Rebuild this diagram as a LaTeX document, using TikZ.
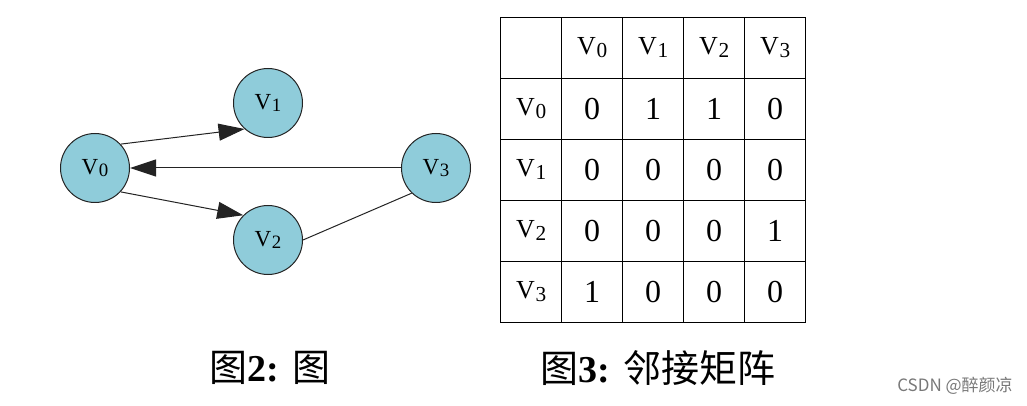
\documentclass[tikz,border=0pt]{standalone}
\usepackage{fontspec}
\usepackage{graphicx}
\setmainfont{Liberation Serif}
\newfontfamily\cjkfont{Noto Sans CJK SC}
\usetikzlibrary{arrows.meta, positioning}
\definecolor{vxblue}{RGB}{143, 204, 218}
\definecolor{edgegray}{RGB}{35, 35, 35}
\definecolor{markgray}{RGB}{120, 120, 120}
\newcommand{\vname}[1]{V\kern0.3pt\raisebox{-0.12em}{\scalebox{0.82}{#1}}}

\begin{document}
\begin{tikzpicture}[x=0.5pt, y=-0.5pt, every node/.style={align=center},
    vertex/.style={circle, draw=edgegray, fill=vxblue, line width=0.5pt, minimum size=34.5pt, inner sep=0pt, font=\fontsize{11.5}{12}\selectfont},
    arc/.style={-{Triangle[length=13pt, width=8.5pt]}, draw=edgegray, line width=0.5pt},
    cell/.style={draw=black, line width=0.6pt, minimum size=30.5pt, inner sep=0pt},
    headcell/.style={cell, font=\fontsize{13}{14}\selectfont},
    valcell/.style={cell, font=\fontsize{16}{17}\selectfont},
    caption/.style={font=\fontsize{19}{21}\selectfont\bfseries}]
    \useasboundingbox (0,0) rectangle (1027,406);

    % graph
    \node[vertex] (v0) at (95,168) {\vname{0}};
    \node[vertex] (v1) at (268,103) {\vname{1}};
    \node[vertex] (v2) at (268,240) {\vname{2}};
    \node[vertex] (v3) at (436,168) {\vname{3}};

    \draw[arc] (v0.43) -- (v1.-132);
    \draw[arc] (v0.-43) -- (v2.135);
    \draw[arc] (v3.west) -- (v0.east);
    \draw[edgegray, line width=0.5pt] (v2.east) -- (v3.-134);

    % adjacency matrix
    \node[cell] (c-h-h) at (531.2,47.8) {};
    \foreach \j in {0,...,3}
        \node[headcell] (c-h-\j) at (592.2+61*\j,47.8) {\vname{\j}};
    \foreach \a/\b/\c/\d [count=\i from 0] in {0/1/1/0, 0/0/0/0, 0/0/0/1, 1/0/0/0} {
        \node[headcell] (c-\i-h) at (531.2,108.8+61*\i) {\vname{\i}};
        \node[valcell] (c-\i-0) at (592.2,108.8+61*\i) {\a};
        \node[valcell] (c-\i-1) at (653.2,108.8+61*\i) {\b};
        \node[valcell] (c-\i-2) at (714.2,108.8+61*\i) {\c};
        \node[valcell] (c-\i-3) at (775.2,108.8+61*\i) {\d};
    }

    % captions
    \node[caption] (cap-graph) at (270,368) {{\cjkfont\mdseries 图}2: {\cjkfont\mdseries 图}};
    \node[caption] (cap-matrix) at (658,368) {{\cjkfont\mdseries 图}3: {\cjkfont\mdseries 邻接矩阵}};
    \node[text=markgray, font=\cjkfont\fontsize{8.5}{9}\selectfont] (mark) at (955,386) {CSDN @醉颜凉};
\end{tikzpicture}
\end{document}
